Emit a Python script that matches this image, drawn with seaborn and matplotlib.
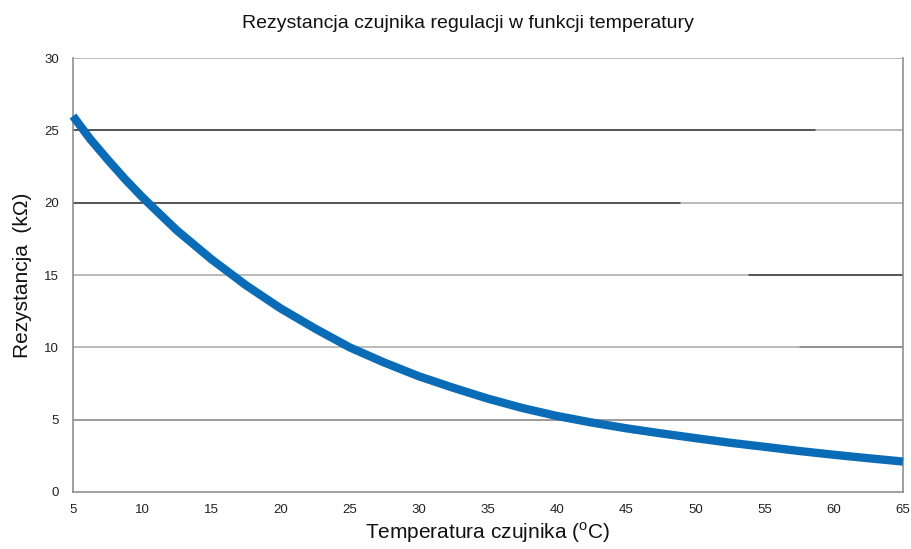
import matplotlib
matplotlib.use("Agg")
import matplotlib.pyplot as plt
import seaborn as sns
import pandas as pd

# Sensor resistance (kΩ) versus sensor temperature (°C)
temperature = [5, 6.25, 7.5, 8.75, 10, 12.5, 15, 17.5, 20, 22.5, 25, 27.5, 30,
               32.5, 35, 37.5, 40, 42.5, 45, 47.5, 50, 52.5, 55, 57.5, 60,
               62.5, 65]
resistance = [26.0, 24.4, 23.0, 21.65, 20.4, 18.1, 16.1, 14.3, 12.7, 11.3,
              10.0, 8.95, 8.0, 7.2, 6.45, 5.8, 5.25, 4.8, 4.4, 4.05, 3.72,
              3.4, 3.12, 2.83, 2.57, 2.33, 2.1]

x_ticks = [5, 10, 15, 20, 25, 30, 35, 40, 45, 50, 55, 60, 65]
y_ticks = [0, 5, 10, 15, 20, 25, 30]

title = "Rezystancja czujnika regulacji w funkcji temperatury"
x_label = r"Temperatura czujnika ($^{\mathrm{o}}$C)"
y_label = "Rezystancja  (kΩ)"

sns.set_theme(style="white")
plt.rcParams["font.family"] = ["Liberation Sans", "DejaVu Sans"]
plt.rcParams["mathtext.fontset"] = "custom"
plt.rcParams["mathtext.rm"] = "Liberation Sans"

df = pd.DataFrame({"T": temperature, "R": resistance})

fig = plt.figure(figsize=(9.12, 5.49), dpi=100)
ax = fig.add_axes([0.080, 0.104, 0.910, 0.790])

grid_light = "#b4b4b4"
grid_dark = "#3a3a3a"

# horizontal grid lines (with darker stretches)
for y in y_ticks[1:]:
    ax.axhline(y, color=grid_light, lw=1.3, zorder=1)
ax.axhline(25, xmin=0, xmax=0.894, color=grid_dark, lw=1.1, zorder=1.1)
ax.axhline(20, xmin=0, xmax=0.731, color=grid_dark, lw=1.1, zorder=1.1)
ax.axhline(15, xmin=0.814, xmax=1, color=grid_dark, lw=1.1, zorder=1.1)
ax.axhline(10, xmin=0.876, xmax=1, color="#8c8c8c", lw=1.2, zorder=1.1)
ax.axhline(5, color="#9a9a9a", lw=1.3, zorder=1.1)

sns.lineplot(data=df, x="T", y="R", ax=ax, color="#0a6cb6", lw=6.0,
             solid_capstyle="butt", solid_joinstyle="round", zorder=3,
             clip_on=False)

ax.set_xlim(5, 65)
ax.set_ylim(0, 30)
ax.set_xticks(x_ticks)
ax.set_yticks(y_ticks)
ax.tick_params(axis="both", direction="out", length=4, width=1,
               color="#808080", labelsize=9.5, labelcolor="#222222", pad=5)
ax.tick_params(axis="y", pad=6)

for side in ("left", "bottom", "right"):
    ax.spines[side].set_visible(True)
    ax.spines[side].set_color("#8f8f8f")
    ax.spines[side].set_linewidth(1.2)
ax.spines["top"].set_visible(False)

ax.set_xlabel(x_label, fontsize=15, color="#111111", labelpad=3)
ax.set_ylabel(y_label, fontsize=15, color="#111111", labelpad=9)
fig.text(0.513, 0.957, title, ha="center", va="center", fontsize=14,
         color="#111111")

fig.savefig("out.png", dpi=100, facecolor="white")
